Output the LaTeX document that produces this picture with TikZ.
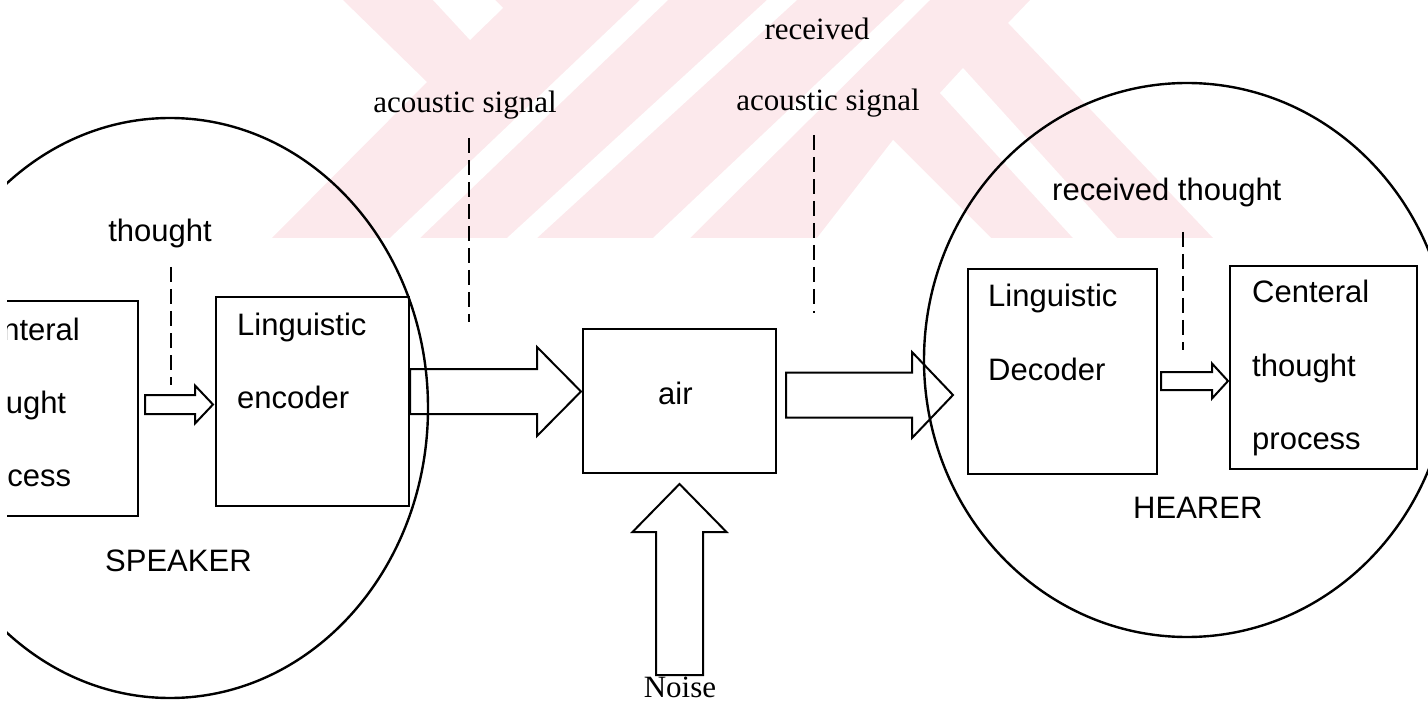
\documentclass[tikz,border=0pt]{standalone}
\usepackage{fontspec}
\setmainfont{Liberation Serif}
\newfontfamily\sansf{Liberation Sans}
\usetikzlibrary{calc}
\definecolor{wm}{RGB}{252,233,236}
\tikzset{
  box/.style={draw, line width=2pt, anchor=north west, inner sep=0pt},
  sanslbl/.style={font=\sansf\fontsize{31}{37}\selectfont, inner sep=0pt},
  seriflbl/.style={font=\fontsize{31}{37}\selectfont, inner sep=0pt},
  blockarr/.style={draw, line width=2pt, line join=miter},
  dashln/.style={line width=2.2pt, dash pattern=on 15pt off 7pt},
  circ/.style={line width=2.4pt},
}
\newcommand\harrow[5]{\draw[blockarr] let \p1=(#1), \p2=(#2) in
  (\x1,\y1+#3pt) -- (\x2-#5pt,\y1+#3pt) -- (\x2-#5pt,\y1+#4pt) -- (\x2,\y1)
  -- (\x2-#5pt,\y1-#4pt) -- (\x2-#5pt,\y1-#3pt) -- (\x1,\y1-#3pt) -- cycle;}
\newcommand\varrow[5]{\draw[blockarr] let \p1=(#1), \p2=(#2) in
  (\x1-#3pt,\y1) -- (\x1-#3pt,\y2-#5pt) -- (\x1-#4pt,\y2-#5pt) -- (\x1,\y2)
  -- (\x1+#4pt,\y2-#5pt) -- (\x1+#3pt,\y2-#5pt) -- (\x1+#3pt,\y1) -- cycle;}
\begin{document}
\begin{tikzpicture}[x=1pt,y=-1pt]
\useasboundingbox (0,0) rectangle (1428,714);
\clip (7,0) rectangle (1428,714);
% watermark
\fill[wm] (343,0) -- (1030,0) -- (1008,23) -- (1213,238) -- (272,238) -- (427,82) -- cycle;
\fill[white] (433,0) -- (495,0) -- (503,8) -- (470,40) -- cycle;
\fill[white] (390,238) -- (640,0) -- (668,0) -- (420,238) -- cycle;
\fill[white] (507,238) -- (767,0) -- (797,0) -- (537,238) -- cycle;
\fill[white] (653,238) -- (905,0) -- (930,0) -- (690,238) -- cycle;
\fill[white] (817,238) -- (893,140) -- (991,238) -- cycle;
\fill[white] (940,93) -- (963,68) -- (1117,238) -- (1073,238) -- cycle;
% circles
\draw[circ] (170,408) ellipse [x radius=258pt, y radius=290pt];
\draw[circ] (1187,360) ellipse [x radius=263pt, y radius=277pt];
% boxes
\node[box, minimum width=186pt, minimum height=215pt] (cen1) at (-49,300) {};
\node[box, minimum width=193pt, minimum height=209pt] (enc) at (215,296) {};
\node[box, minimum width=193pt, minimum height=144pt] (air) at (582,328) {};
\node[box, minimum width=189pt, minimum height=205pt] (dec) at (967,268) {};
\node[box, minimum width=187pt, minimum height=203pt] (cen2) at (1229,265) {};
% box texts
\node[sanslbl, anchor=base west] (c1a) at (-37.5,340) {Centeral};
\node[sanslbl, anchor=base west] (c1b) at (-37.5,413) {thought};
\node[sanslbl, anchor=base west] (c1c) at (-37.5,486) {process};
\node[sanslbl, anchor=base west] (e1) at (237,335) {Linguistic};
\node[sanslbl, anchor=base west] (e2) at (237,408) {encoder};
\node[sanslbl, anchor=base west] (airt) at (658,404) {air};
\node[sanslbl, anchor=base west] (d1) at (988,307) {Linguistic};
\node[sanslbl, anchor=base west] (d2) at (988,380) {Decoder};
\node[sanslbl, anchor=base west] (c2a) at (1252,303) {Centeral};
\node[sanslbl, anchor=base west] (c2b) at (1252,376) {thought};
\node[sanslbl, anchor=base west] (c2c) at (1252,449) {process};
\node[sanslbl, anchor=base west] (spk) at (105,571) {SPEAKER};
\node[sanslbl, anchor=base west] (hr) at (1133,518) {HEARER};
% labels
\node[sanslbl, anchor=base] (thl) at (160,242) {thought};
\node[sanslbl, anchor=base west] (rtl) at (1052,201) {received thought};
\node[seriflbl, anchor=base] (as1) at (465,113) {acoustic signal};
\node[seriflbl, anchor=base] (rcv) at (817,40) {received};
\node[seriflbl, anchor=base] (as2) at (828,111) {acoustic signal};
\node[seriflbl, anchor=base] (noise) at (680,697) {Noise};
% dashed pointers
\coordinate (d1s) at (171,267); \coordinate (d1e) at (171,385);
\coordinate (d2s) at (469,138); \coordinate (d2e) at (469,322);
\coordinate (d3s) at (814,135); \coordinate (d3e) at (814,313);
\coordinate (d4s) at (1183,232); \coordinate (d4e) at (1183,350);
\draw[dashln] (d1s) -- (d1e);
\draw[dashln] (d2s) -- (d2e);
\draw[dashln] (d3s) -- (d3e);
\draw[dashln] (d4s) -- (d4e);
% block arrows
\coordinate (s1a) at (145,404.5); \coordinate (s1b) at (213,404.5);
\coordinate (a1a) at (410,391.5); \coordinate (a1b) at (581,391.5);
\coordinate (a2a) at (786,395); \coordinate (a2b) at (953,395);
\coordinate (s2a) at (1161,381); \coordinate (s2b) at (1228,381);
\coordinate (na) at (679.5,675); \coordinate (nb) at (679.5,484);
\harrow{s1a}{s1b}{9.5}{19}{18}
\harrow{a1a}{a1b}{22.5}{44.5}{44}
\harrow{a2a}{a2b}{22.5}{43}{41}
\harrow{s2a}{s2b}{9}{17.5}{16}
\varrow{na}{nb}{23.5}{47}{48}
\end{tikzpicture}
\end{document}
